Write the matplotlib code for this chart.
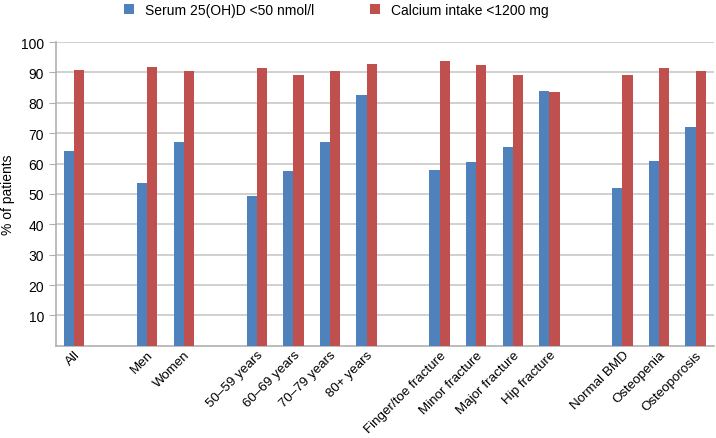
import matplotlib
matplotlib.use('Agg')
import matplotlib.pyplot as plt
import numpy as np

# empty strings are the spacer slots between groups
categories = ['All', '', 'Men', 'Women', '',
              '50\u201359 years', '60\u201369 years', '70\u201379 years', '80+ years', '',
              'Finger/toe fracture', 'Minor fracture', 'Major fracture', 'Hip fracture', '',
              'Normal BMD', 'Osteopenia', 'Osteoporosis']
serum = [64, None, 53.6, 67, None,
         49.2, 57.6, 67, 82.6, None,
         57.9, 60.6, 65.5, 83.9, None,
         52.1, 60.9, 72.1]
calcium = [90.7, None, 91.9, 90.3, None,
           91.4, 89.2, 90.3, 92.7, None,
           93.9, 92.3, 89.2, 83.7, None,
           89.0, 91.6, 90.3]
labels = ['Serum 25(OH)D <50 nmol/l', 'Calcium intake <1200 mg']

blue = '#4F81BD'
red = '#C0504D'

plt.rcParams['font.family'] = ['Liberation Sans', 'DejaVu Sans']

fig = plt.figure(figsize=(7.16, 4.39), dpi=100)
ax = fig.add_axes([0.078, 0.21, 0.919, 0.692])

x = np.arange(len(categories))
w = 0.28
idx = [i for i, v in enumerate(serum) if v is not None]
ax.bar(x[idx] - w / 2, [serum[i] for i in idx], w, color=blue, label=labels[0], zorder=3)
ax.bar(x[idx] + w / 2, [calcium[i] for i in idx], w, color=red, label=labels[1], zorder=3)

ax.set_xlim(-0.5, len(categories) - 0.5)
ax.set_ylim(0, 100)
ax.set_yticks(range(10, 101, 10))
ax.yaxis.grid(True, color='#c8c8c8', linewidth=1.2, zorder=0)
ax.tick_params(axis='y', length=5, color='#b0b0b0', labelsize=10)
ax.set_xticks([i for i in x if categories[i]])
ax.set_xticklabels([c for c in categories if c], rotation=45, ha='right',
                   rotation_mode='anchor', fontsize=9.6)
ax.tick_params(axis='x', length=0, pad=2)
for s in ['top', 'right']:
    ax.spines[s].set_visible(False)
for s in ['left', 'bottom']:
    ax.spines[s].set_color('#b0b0b0')
    ax.spines[s].set_linewidth(1.2)
ax.set_ylabel('% of patients', fontsize=10)

fig.legend(loc='upper center', bbox_to_anchor=(0.47, 1.02), ncol=2, frameon=False,
           fontsize=10, handlelength=0.7, handleheight=0.7, columnspacing=4)

fig.savefig('out.png', dpi=100)
